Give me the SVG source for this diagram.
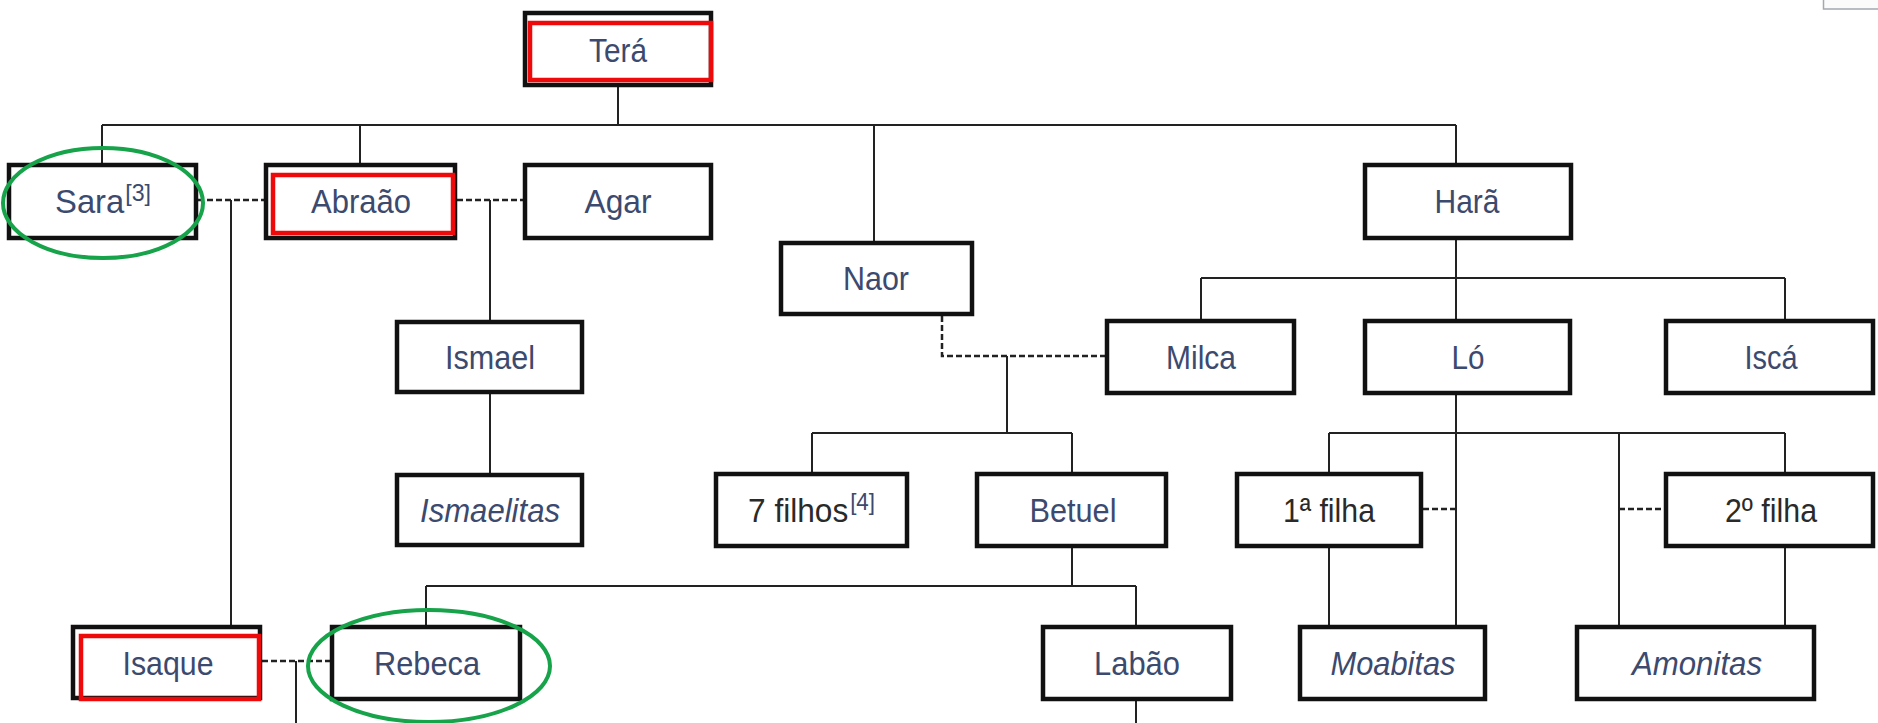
<svg xmlns="http://www.w3.org/2000/svg" width="1878" height="723" viewBox="0 0 1878 723">
<style>
.box{fill:#ffffff;stroke:#111;stroke-width:4.5}
.red{fill:none;stroke:#ee0a0a;stroke-width:4.5}
.grn{fill:none;stroke:#17a34a;stroke-width:4}
.ln{fill:none;stroke:#222;stroke-width:2}
.dl{fill:none;stroke:#222;stroke-width:2.5;stroke-dasharray:6 3}
.t{font-family:"Liberation Sans",Arial,sans-serif;font-size:34px;fill:#3b4a6e;text-anchor:middle}
.st{text-anchor:start}
.k{fill:#2a2a2a}
.i{font-style:italic}
.sup{font-size:24px;fill:#3b4a6e}
</style>
<rect width="1878" height="723" fill="#ffffff"/>
<rect x="1823.5" y="-5" width="60" height="14" fill="#fbfbfb" stroke="#a2a9b1" stroke-width="1.5"/>
<g id="connectors">
<path class="ln" d="M618 87V125M102 125H1456M102 125V163M360 125V163M874 125V241M1456 125V163"/>
<path class="ln" d="M231 200V625M490 200V320M490 394V473"/>
<path class="ln" d="M1456 240V319M1201 278H1785M1201 278V319M1785 278V319"/>
<path class="ln" d="M1007 356V433M812 433H1072M812 433V472M1072 433V472"/>
<path class="ln" d="M1072 548V586M426 586H1136M426 586V625M1136 586V625M1136 701V723"/>
<path class="ln" d="M1456 395V625M1329 433H1785M1329 433V472M1329 548V625M1619 433V625M1785 433V472M1785 548V625"/>
<path class="ln" d="M296 661V723"/>
<path class="dl" d="M198 200H264M457 200H523M942 316V356H1105M1423 509H1456M1619 509H1664M262 661H330"/>
</g>
<g id="tera"><rect class="box" x="525" y="13" width="186" height="72"/><rect class="red" x="530" y="23" width="181" height="57"/><text class="t" x="618" y="62" textLength="58" lengthAdjust="spacingAndGlyphs">Terá</text></g>
<g id="sara"><rect class="box" x="9" y="165" width="187" height="73"/><text class="t st" x="55" y="213" textLength="96" lengthAdjust="spacingAndGlyphs">Sara<tspan class="sup" dy="-12" dx="1">[3]</tspan></text></g>
<g id="abraao"><rect class="box" x="266" y="165" width="189" height="73"/><rect class="red" x="273" y="175" width="180" height="58"/><text class="t" x="361" y="213" textLength="100" lengthAdjust="spacingAndGlyphs">Abraão</text></g>
<g id="agar"><rect class="box" x="525" y="165" width="186" height="73"/><text class="t" x="618" y="213" textLength="67" lengthAdjust="spacingAndGlyphs">Agar</text></g>
<g id="hara"><rect class="box" x="1365" y="165" width="206" height="73"/><text class="t" x="1467" y="213" textLength="65" lengthAdjust="spacingAndGlyphs">Harã</text></g>
<g id="naor"><rect class="box" x="781" y="243" width="191" height="71"/><text class="t" x="876" y="290" textLength="66" lengthAdjust="spacingAndGlyphs">Naor</text></g>
<g id="ismael"><rect class="box" x="397" y="322" width="185" height="70"/><text class="t" x="490" y="369" textLength="90" lengthAdjust="spacingAndGlyphs">Ismael</text></g>
<g id="milca"><rect class="box" x="1107" y="321" width="187" height="72"/><text class="t" x="1201" y="369" textLength="70" lengthAdjust="spacingAndGlyphs">Milca</text></g>
<g id="lo"><rect class="box" x="1365" y="321" width="205" height="72"/><text class="t" x="1468" y="369" textLength="33" lengthAdjust="spacingAndGlyphs">Ló</text></g>
<g id="isca"><rect class="box" x="1666" y="321" width="207" height="72"/><text class="t" x="1771" y="369" textLength="53" lengthAdjust="spacingAndGlyphs">Iscá</text></g>
<g id="ismaelitas"><rect class="box" x="397" y="475" width="185" height="70"/><text class="t i" x="490" y="522" textLength="140" lengthAdjust="spacingAndGlyphs">Ismaelitas</text></g>
<g id="filhos7"><rect class="box" x="716" y="474" width="191" height="72"/><text class="t st k" x="748" y="522" textLength="127" lengthAdjust="spacingAndGlyphs">7 filhos<tspan class="sup" dy="-12" dx="2">[4]</tspan></text></g>
<g id="betuel"><rect class="box" x="977" y="474" width="189" height="72"/><text class="t" x="1073" y="522" textLength="87" lengthAdjust="spacingAndGlyphs">Betuel</text></g>
<g id="filha1"><rect class="box" x="1237" y="474" width="184" height="72"/><text class="t k" x="1329" y="522" textLength="92" lengthAdjust="spacingAndGlyphs">1ª filha</text></g>
<g id="filha2"><rect class="box" x="1666" y="474" width="207" height="72"/><text class="t k" x="1771" y="522" textLength="92" lengthAdjust="spacingAndGlyphs">2º filha</text></g>
<g id="isaque"><rect class="box" x="73" y="627" width="187" height="71"/><rect class="red" x="81" y="636" width="178" height="63"/><text class="t" x="168" y="675" textLength="91" lengthAdjust="spacingAndGlyphs">Isaque</text></g>
<g id="rebeca"><rect class="box" x="332" y="627" width="188" height="72"/><text class="t" x="427" y="675" textLength="106" lengthAdjust="spacingAndGlyphs">Rebeca</text></g>
<g id="labao"><rect class="box" x="1043" y="627" width="188" height="72"/><text class="t" x="1137" y="675" textLength="86" lengthAdjust="spacingAndGlyphs">Labão</text></g>
<g id="moabitas"><rect class="box" x="1300" y="627" width="185" height="72"/><text class="t i" x="1393" y="675" textLength="125" lengthAdjust="spacingAndGlyphs">Moabitas</text></g>
<g id="amonitas"><rect class="box" x="1577" y="627" width="237" height="72"/><text class="t i" x="1697" y="675" textLength="130" lengthAdjust="spacingAndGlyphs">Amonitas</text></g>
<g id="highlights"><ellipse class="grn" cx="103" cy="203" rx="100" ry="55"/><ellipse class="grn" cx="429" cy="666" rx="121" ry="56"/></g>
</svg>
